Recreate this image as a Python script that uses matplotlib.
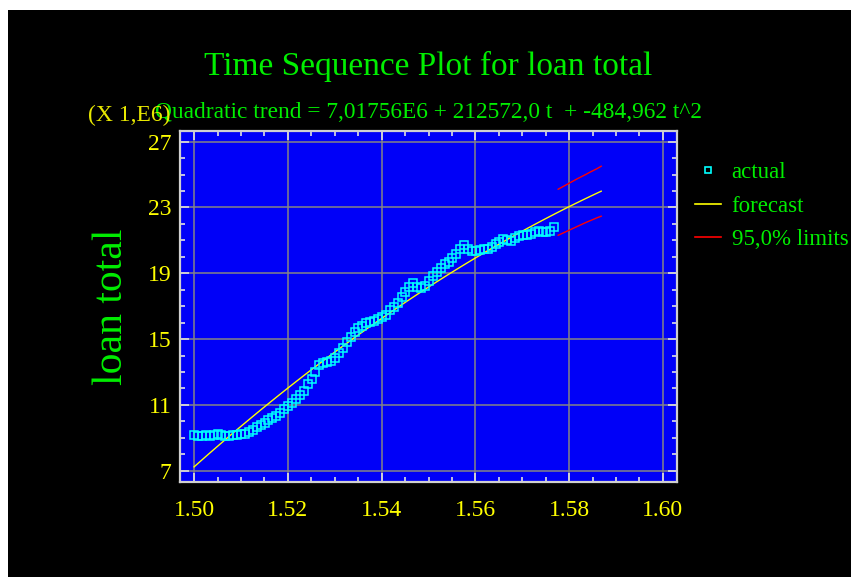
import numpy as np
import matplotlib
matplotlib.use("Agg")
import matplotlib.pyplot as plt
from matplotlib.lines import Line2D
from matplotlib.patches import Rectangle
from matplotlib.ticker import MultipleLocator, FormatStrFormatter

# ---- data (loan total, in units of 1E6) ----
loan_actual = [
    9.15, 9.10, 9.10, 9.15, 9.10, 9.15, 9.25, 9.15, 9.10, 9.10,
    9.15, 9.15, 9.20, 9.25, 9.35, 9.50, 9.65, 9.80, 9.90, 10.05,
    10.20, 10.30, 10.50, 10.75, 10.95, 11.10, 11.35, 11.60, 11.85, 12.25,
    12.60, 13.00, 13.45, 13.55, 13.62, 13.68, 13.85, 14.15, 14.45, 14.80,
    15.10, 15.40, 15.65, 15.82, 15.95, 16.05, 16.10, 16.20, 16.35, 16.45,
    16.75, 16.95, 17.20, 17.55, 17.85, 18.15, 18.38, 18.15, 18.10, 18.20,
    18.55, 18.85, 19.10, 19.35, 19.55, 19.70, 19.90, 20.20, 20.45, 20.70,
    20.50, 20.35, 20.35, 20.40, 20.45, 20.50, 20.60, 20.75, 20.90, 21.10,
    21.05, 20.95, 21.15, 21.25, 21.30, 21.35, 21.40, 21.50, 21.55, 21.50,
    21.50, 21.55, 21.80,
]
n_forecast_periods = 105          # fitted periods plus forecast horizon
time_start = 1.50                 # time value of period 1
time_step = 0.000835              # time per period

# quadratic trend coefficients (scaled by 1E6)
trend_b0 = 7.01756
trend_b1 = 0.212572
trend_b2 = -0.000484962

# 95% forecast limits for periods 94..105
limit_first_period = 94
limit_upper = [24.11, 24.24, 24.37, 24.50, 24.63, 24.76,
               24.88, 25.00, 25.13, 25.25, 25.37, 25.51]
limit_lower = [21.31, 21.42, 21.53, 21.64, 21.75, 21.86,
               21.97, 22.08, 22.18, 22.28, 22.38, 22.47]

title_text = "Time Sequence Plot for loan total"
subtitle_text = "Quadratic trend = 7,01756E6 + 212572,0 t  + -484,962 t^2"
scale_text = "(X 1,E6)"
ylabel_text = "loan total"
legend_labels = ["actual", "forecast", "95,0% limits"]

# ---- derived series ----
periods_actual = np.arange(1, len(loan_actual) + 1)
periods_all = np.arange(1, n_forecast_periods + 1)
periods_limit = np.arange(limit_first_period, limit_first_period + len(limit_upper))
to_time = lambda p: time_start + (p - 1) * time_step
trend = trend_b0 + trend_b1 * periods_all + trend_b2 * periods_all ** 2

# ---- styling ----
SERIF = ["Liberation Serif", "DejaVu Serif"]
GREEN = "#00ee00"
YELLOW = "#ffff00"
CYAN = "#00ffff"
RED = "#ff0000"
BLUE = "#0000f8"

W, H = 851, 577
fig = plt.figure(figsize=(W / 100, H / 100), dpi=100, facecolor="white")
fig.patches.append(Rectangle((8 / W, 0), 1 - 8 / W, 1 - 10 / H,
                             transform=fig.transFigure, facecolor="black",
                             edgecolor="none", zorder=-10))

ax_left, ax_right, ax_top, ax_bottom = 180, 677, 131, 482
ax = fig.add_axes([ax_left / W, 1 - ax_bottom / H,
                   (ax_right - ax_left) / W, (ax_bottom - ax_top) / H])
ax.set_facecolor(BLUE)

ax.plot(to_time(periods_all), trend, color=YELLOW, lw=1.0, zorder=3)
ax.plot(to_time(periods_limit), limit_upper, color=RED, lw=1.0, zorder=3)
ax.plot(to_time(periods_limit), limit_lower, color=RED, lw=1.0, zorder=3)
ax.plot(to_time(periods_actual), loan_actual, ls="none", marker="s",
        markersize=5.6, markerfacecolor="none", markeredgecolor=CYAN,
        markeredgewidth=1.1, zorder=4)

ax.set_xlim(1.497, 1.603)
ax.set_ylim(6.31, 27.65)
ax.xaxis.set_major_locator(MultipleLocator(0.02))
ax.xaxis.set_minor_locator(MultipleLocator(0.005))
ax.yaxis.set_major_locator(MultipleLocator(4))
ax.yaxis.set_minor_locator(MultipleLocator(1))
ax.yaxis.set_major_formatter(FormatStrFormatter("%d"))
ax.xaxis.set_major_formatter(FormatStrFormatter("%.2f"))
ax.set_ylim(6.31, 27.65)
ax.set_yticks([7, 11, 15, 19, 23, 27])

ax.grid(True, which="major", color="#858585", lw=1.1, zorder=1)
ax.set_axisbelow(True)
for s in ax.spines.values():
    s.set_color("#d0d0d0")
    s.set_linewidth(1.6)

ax.tick_params(which="both", direction="in", top=True, right=True,
               color="#e0e0e0", width=1.2)
ax.tick_params(which="major", length=6.5)
ax.tick_params(which="minor", length=3.5)
ax.tick_params(axis="y", which="major", pad=6, labelsize=17, labelcolor=YELLOW)
ax.tick_params(axis="x", which="major", pad=13, labelsize=17, labelcolor=YELLOW)
for lbl in ax.get_xticklabels() + ax.get_yticklabels():
    lbl.set_family(SERIF)

fig.text(0.5 * (ax_left + ax_right) / W, 1 - 75 / H, title_text,
         color=GREEN, fontsize=24, family=SERIF, ha="center", va="baseline")
fig.text(0.5 * (ax_left + ax_right) / W, 1 - 118 / H, subtitle_text,
         color=GREEN, fontsize=16.8, family=SERIF, ha="center", va="baseline")
fig.text(170 / W, 1 - 121 / H, scale_text, color="#e8e800", fontsize=17,
         family=SERIF, ha="right", va="baseline")
fig.text(112 / W, 1 - 307 / H, ylabel_text, color=GREEN, fontsize=30,
         family=SERIF, rotation=90, ha="center", va="center")

handles = [
    Line2D([], [], ls="none", marker="s", markersize=4.5,
           markerfacecolor="none", markeredgecolor=CYAN, markeredgewidth=1.2),
    Line2D([], [], color=YELLOW, lw=1.2),
    Line2D([], [], color=RED, lw=1.2),
]
fig.legend(handles, legend_labels, loc="upper left",
           bbox_to_anchor=(695 / W, 1 - 162 / H), frameon=False,
           labelcolor=GREEN, prop={"family": SERIF, "size": 16.5},
           handlelength=1.15, handletextpad=0.45, labelspacing=0.55,
           borderpad=0, borderaxespad=0)

fig.savefig("out.png", dpi=100, facecolor=fig.get_facecolor())
